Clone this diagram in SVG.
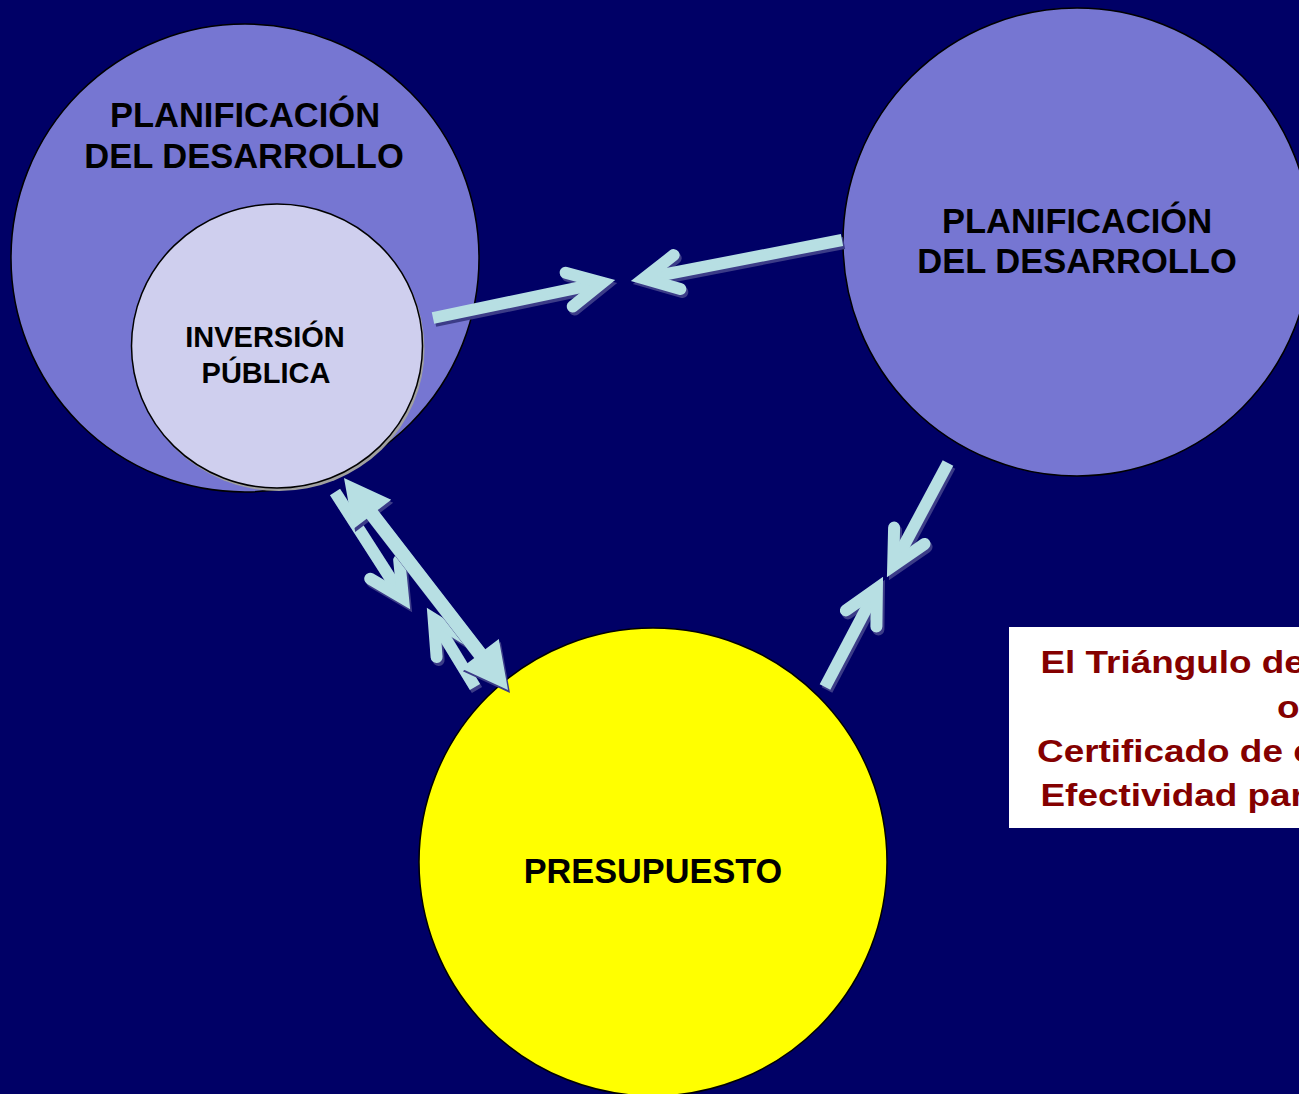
<svg xmlns="http://www.w3.org/2000/svg" xmlns:xlink="http://www.w3.org/1999/xlink" width="1299" height="1094" viewBox="0 0 1299 1094">
<style>
.bg{fill:#000066}
.big{fill:#7676D2;stroke:#000;stroke-width:1.5}
.inner{fill:#CFCFEE;stroke:#000;stroke-width:1.5}
.yel{fill:#FFFF00;stroke:#000;stroke-width:1.5}
.lbl{font-family:"Liberation Sans",Arial,sans-serif;font-weight:bold;fill:#000;text-anchor:middle}
.red{font-family:"Liberation Sans",Arial,sans-serif;font-weight:bold;fill:#840000;font-size:31px}
.sh{fill:none;stroke-width:12;stroke-linecap:butt}
.hd{fill:none;stroke-width:12;stroke-linecap:round;stroke-linejoin:miter;stroke-miterlimit:6}
</style>
<defs>
<g id="aA"><path class="sh" d="M433,318 L602.3,282.7"/><path class="hd" d="M565.6,272.7 L602.3,282.7 L572.7,306.5"/></g>
<g id="aB"><path class="sh" d="M842,240 L643.8,278.5"/><path class="hd" d="M673.7,255.1 L643.8,278.5 L680.3,289"/></g>
<g id="aC"><path class="sh" d="M948,463 L893.2,565.6"/><path class="hd" d="M924.5,544 L893.2,565.6 L894.1,527.6"/></g>
<g id="aD"><path class="sh" d="M825,687 L876.9,588.5"/><path class="hd" d="M845.9,610.4 L876.9,588.5 L876.4,626.5"/></g>
<g id="aE"><path class="sh" d="M335,492 L403,598"/><path class="hd" d="M370.2,578.8 L403,598 L399.2,560.2"/></g>
<g id="aF"><path class="sh" d="M475,687 L433.7,619.1"/><path class="hd" d="M436.6,657 L433.7,619.1 L466,639"/></g>
<polygon id="aBig" points="344,478 391.2,499.7 377.7,510.1 485.3,649.3 498.8,638.9 508,690 460.8,668.3 474.3,657.9 366.7,518.7 353.2,529.1"/>
</defs>
<rect class="bg" x="0" y="0" width="1299" height="1094"/>
<g id="node-planificacion-izq">
<circle class="big" cx="245" cy="258" r="234"/>
<text class="lbl" font-size="34.5" x="245" y="127">PLANIFICACIÓN</text>
<text class="lbl" font-size="34.5" x="244" y="168">DEL DESARROLLO</text>
</g>
<g id="node-inversion">
<ellipse cx="279" cy="349" rx="145.5" ry="142" fill="#A0A0A0"/>
<ellipse class="inner" cx="277" cy="346" rx="145.5" ry="142"/>
<text class="lbl" font-size="29" x="265" y="347">INVERSIÓN</text>
<text class="lbl" font-size="29" x="266" y="383">PÚBLICA</text>
</g>
<g id="node-planificacion-der">
<circle class="big" cx="1077" cy="242" r="234"/>
<text class="lbl" font-size="34.5" x="1077" y="233">PLANIFICACIÓN</text>
<text class="lbl" font-size="34.5" x="1077" y="273">DEL DESARROLLO</text>
</g>
<g id="node-presupuesto">
<circle class="yel" cx="653" cy="862" r="234"/>
<text class="lbl" font-size="34.3" x="653" y="883">PRESUPUESTO</text>
</g>
<g id="node-nota">
<rect x="1009" y="627" width="300" height="201" fill="#FFFFFF"/>
<text class="red" transform="translate(1040.5,673) scale(1.19,1)">El Triángulo de</text>
<text class="red" transform="translate(1277,718) scale(1.19,1)">o</text>
<text class="red" transform="translate(1037,762) scale(1.19,1)">Certificado de c</text>
<text class="red" transform="translate(1040.5,806) scale(1.19,1)">Efectividad par</text>
</g>
<g id="connectors">
<g transform="translate(2,3)" stroke="#3C3C88" fill="#3C3C88">
<use xlink:href="#aA"/><use xlink:href="#aB"/><use xlink:href="#aC"/><use xlink:href="#aD"/><use xlink:href="#aE"/><use xlink:href="#aF"/>
</g>
<g stroke="#B7DFE3" fill="#B7DFE3">
<use xlink:href="#aA"/><use xlink:href="#aB"/><use xlink:href="#aC"/><use xlink:href="#aD"/><use xlink:href="#aE"/><use xlink:href="#aF"/>
</g>
<use xlink:href="#aBig" transform="translate(2,3)" fill="#3C3C88"/>
<use xlink:href="#aBig" fill="#B7DFE3"/>
</g>
</svg>
